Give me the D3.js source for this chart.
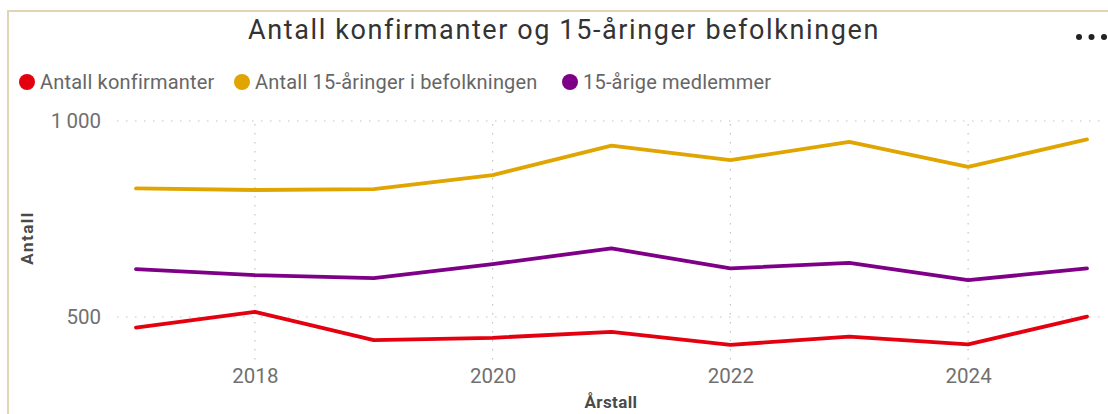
<!DOCTYPE html>
<html>
<head>
<meta charset="utf-8">
<script src="https://cdn.jsdelivr.net/npm/d3@7"></script>
<style>
  body { margin: 0; background: #fff; }
  svg { display: block; }
</style>
</head>
<body>
<script>
// data
const years = [2017, 2018, 2019, 2020, 2021, 2022, 2023, 2024, 2025];
const konfirmanter = [473, 513, 441, 447, 462, 429, 450, 430, 501];
const befolkning15 = [828, 824, 826, 862, 937, 900, 947, 883, 953];
const medlemmer15 = [622, 607, 599, 635, 675, 624, 638, 594, 624];
const seriesNames = ["Antall konfirmanter", "Antall 15-åringer i befolkningen", "15-årige medlemmer"];
const seriesColors = ["#e3000f", "#e0a500", "#7d0087"];
const yTicks = [500, 1000];
const xTicks = [2018, 2020, 2022, 2024];

const W = 1108, H = 414;
const font = "Roboto, 'Open Sans', sans-serif";

const svg = d3.select("body").append("svg")
    .attr("width", W)
    .attr("height", H);

// visual frame
svg.append("rect")
    .attr("x", 8).attr("y", 11)
    .attr("width", W + 20).attr("height", H + 20)
    .attr("fill", "none")
    .attr("stroke", "#e2d5b6")
    .attr("stroke-width", 2);

const x = d3.scaleLinear().domain([2017, 2025]).range([136, 1087]);
const y = d3.scaleLinear().domain([500, 1000]).range([317, 121]);

// gridlines
svg.append("g")
    .selectAll("line")
    .data(yTicks)
    .enter()
    .append("line")
    .attr("x1", 117).attr("x2", 1102)
    .attr("y1", d => y(d)).attr("y2", d => y(d))
    .attr("stroke", "#c4c4c4")
    .attr("stroke-width", 1.2)
    .attr("stroke-dasharray", "1.5,7.5");

svg.append("g")
    .selectAll("line")
    .data(xTicks)
    .enter()
    .append("line")
    .attr("x1", d => x(d)).attr("x2", d => x(d))
    .attr("y1", y(1000) + 3).attr("y2", 360)
    .attr("stroke", "#c4c4c4")
    .attr("stroke-width", 1.2)
    .attr("stroke-dasharray", "1.5,7.5");

// axes (labels only)
const yAxis = svg.append("g")
    .attr("transform", "translate(101,0)")
    .call(d3.axisLeft(y).tickValues(yTicks).tickSize(0).tickPadding(0)
        .tickFormat(d => d3.format(",")(d).replace(",", "\u2009")));
yAxis.select(".domain").remove();
yAxis.selectAll("text")
    .attr("font-family", font)
    .attr("font-size", "20.5px")
    .attr("fill", "#707070");

const xAxis = svg.append("g")
    .attr("transform", "translate(0,368)")
    .call(d3.axisBottom(x).tickValues(xTicks).tickSize(0).tickPadding(0)
        .tickFormat(d3.format("d")));
xAxis.select(".domain").remove();
xAxis.selectAll("text")
    .attr("font-family", font)
    .attr("font-size", "20.5px")
    .attr("fill", "#707070");

// axis titles
svg.append("text")
    .attr("x", 611).attr("y", 408)
    .attr("text-anchor", "middle")
    .attr("font-family", font)
    .attr("font-size", "17px")
    .attr("font-weight", "bold")
    .attr("letter-spacing", "0.4px")
    .attr("fill", "#4a4a4a")
    .text("Årstall");

svg.append("text")
    .attr("transform", "translate(33,238) rotate(-90)")
    .attr("text-anchor", "middle")
    .attr("font-family", font)
    .attr("font-size", "17px")
    .attr("font-weight", "bold")
    .attr("letter-spacing", "1.5px")
    .attr("fill", "#4a4a4a")
    .text("Antall");

// lines
const line = d3.line()
    .x((d, i) => x(years[i]))
    .y(d => y(d));

[konfirmanter, befolkning15, medlemmer15].forEach(function(vals, k){
    svg.append("path")
        .datum(vals)
        .attr("d", line)
        .attr("fill", "none")
        .attr("stroke", seriesColors[k])
        .attr("stroke-width", 3.8)
        .attr("stroke-linejoin", "round")
        .attr("stroke-linecap", "round");
});

// title
svg.append("text")
    .attr("x", 564).attr("y", 39)
    .attr("text-anchor", "middle")
    .attr("font-family", font)
    .attr("font-size", "27px")
    .attr("letter-spacing", "1.6px")
    .attr("fill", "#333")
    .text("Antall konfirmanter og 15-åringer befolkningen");

// "more" dots
svg.append("g")
    .selectAll("circle")
    .data([0, 1, 2])
    .enter()
    .append("circle")
    .attr("cx", d => 1079 + d * 12.5)
    .attr("cy", 37)
    .attr("r", 3)
    .attr("fill", "#222");

// legend
const legendX = [27, 242, 570];
const legend = svg.append("g")
    .selectAll("g")
    .data(seriesNames)
    .enter()
    .append("g")
    .attr("transform", (d, i) => "translate(" + legendX[i] + ",82)");

legend.append("circle")
    .attr("r", 8)
    .attr("fill", (d, i) => seriesColors[i]);

legend.append("text")
    .attr("x", 13)
    .attr("y", 7)
    .attr("font-family", font)
    .attr("font-size", "20px")
    .attr("letter-spacing", "0.2px")
    .attr("fill", "#666")
    .text(d => d);
</script>
</body>
</html>
